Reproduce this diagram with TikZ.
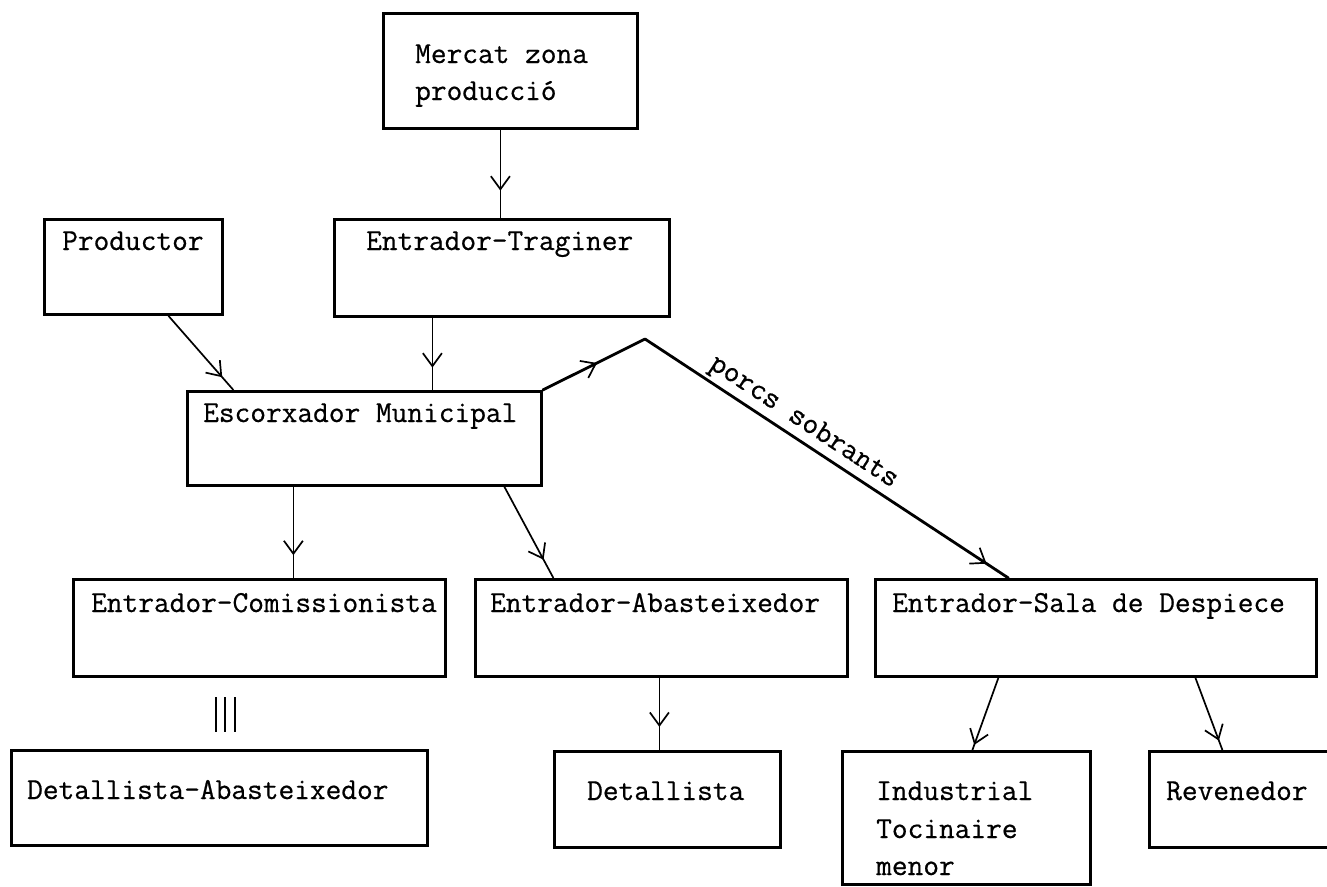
\documentclass[tikz,border=0pt]{standalone}
\usepackage{fontspec}
\newfontfamily\typew{Latin Modern Mono}[FakeBold=0.6]
\usetikzlibrary{arrows.meta,decorations.markings}
\tikzset{
  box/.style={draw, line width=2.8pt, rectangle, inner sep=0pt, anchor=north west},
  txt/.style={anchor=base west, inner sep=0pt, font=\fontsize{30.5}{36}\selectfont\typew},
  conn/.style={line width=1.7pt},
  heavy/.style={line width=2.8pt, line cap=round},
  barb/.style={postaction={decorate}, decoration={markings, mark=at position #1 with {\arrow{Straight Barb[length=13pt,width=19pt,line width=1.7pt]}}}},
}
\begin{document}
\begin{tikzpicture}[x=1pt,y=-1pt]
\useasboundingbox (0,0) rectangle (1327,886);
% boxes
\node[box, minimum width=254pt, minimum height=115pt] (merc) at (382,12) {};
\node[box, minimum width=178pt, minimum height=95pt]  (prod) at (43,218) {};
\node[box, minimum width=335pt, minimum height=97pt]  (trag) at (333,218) {};
\node[box, minimum width=354pt, minimum height=94pt]  (esc)  at (186,390) {};
\node[box, minimum width=372pt, minimum height=97pt]  (com)  at (72,578) {};
\node[box, minimum width=372pt, minimum height=97pt]  (aba)  at (474,578) {};
\node[box, minimum width=441pt, minimum height=97pt]  (sala) at (874,578) {};
\node[box, minimum width=416pt, minimum height=95pt]  (detab) at (10,749) {};
\node[box, minimum width=226pt, minimum height=96pt]  (det)  at (553,750) {};
\node[box, minimum width=248pt, minimum height=133pt] (ind)  at (841,750) {};
\node[box, minimum width=187pt, minimum height=96pt]  (rev)  at (1148,750) {};
% texts
\node[txt] (tmerc1) at (415,63) {Mercat zona};
\node[txt] (tmerc2) at (415,100) {producció};
\node[txt] (tprod) at (62,250) {Productor};
\node[txt] (ttrag) at (366,250) {Entrador-Traginer};
\node[txt] (tesc) at (203,422) {Escorxador Municipal};
\node[txt] (tcom) at (91,612) {Entrador-Comissionista};
\node[txt] (taba) at (490,612) {Entrador-Abasteixedor};
\node[txt] (tsala) at (892,612) {Entrador-Sala de Despiece};
\node[txt] (tdetab) at (27,799) {Detallista-Abasteixedor};
\node[txt] (tdet) at (587,800) {Detallista};
\node[txt] (tind1) at (876,800) {Industrial};
\node[txt] (tind2) at (876,838) {Tocinaire};
\node[txt] (tind3) at (876,875) {menor};
\node[txt] (trev) at (1166,800) {Revenedor};
% connectors
\draw[conn, barb=0.69] ([xshift=-10pt]merc.south) -- ([xshift=-1.5pt]trag.north);
\draw[conn, barb=0.83] ([xshift=35pt]prod.south) -- ([xshift=-131pt]esc.north);
\draw[conn, barb=0.69] ([xshift=-69.5pt]trag.south) -- ([xshift=68pt]esc.north);
\coordinate (peak) at (645,339);
\draw[heavy, barb=0.53] (esc.north east) -- (peak);
\draw[heavy, barb=0.94] (peak) -- node[pos=0.41, sloped, above=3pt, inner sep=0pt, font=\fontsize{30.5}{36}\selectfont\typew] (lporcs) {porcs sobrants} ([xshift=-87.5pt]sala.north);
\draw[conn, barb=0.75] ([xshift=-71pt]esc.south) -- ([xshift=34pt]com.north);
\draw[conn, barb=0.80] ([xshift=140pt]esc.south) -- ([xshift=-108pt]aba.north);
\draw[conn, barb=0.68] ([xshift=-2pt]aba.south) -- ([xshift=-8pt]det.north);
\draw[conn, barb=0.93] ([xshift=-97.5pt]sala.south) -- ([xshift=6pt]ind.north);
\draw[conn, barb=0.87] ([xshift=99.5pt]sala.south) -- ([xshift=-20.5pt]rev.north);
% equivalence mark between Comissionista and Detallista-Abasteixedor
\draw[conn] (216,697) -- (216,732);
\draw[conn] (225,697) -- (225,732);
\draw[conn] (235,697) -- (235,732);
\end{tikzpicture}
\end{document}
